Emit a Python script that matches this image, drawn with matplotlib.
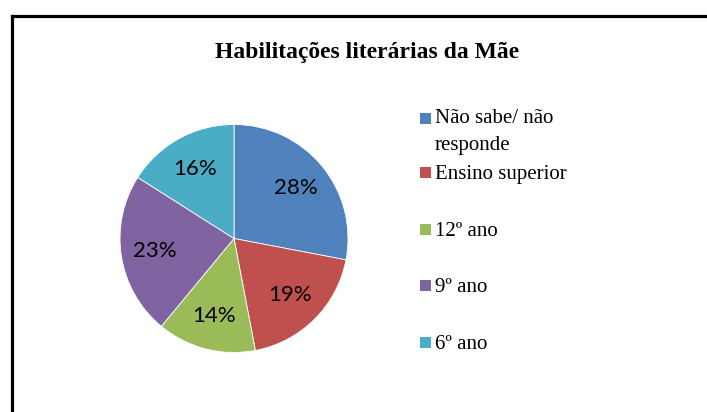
import matplotlib
matplotlib.use("Agg")
import matplotlib.pyplot as plt
from matplotlib.patches import Rectangle
from matplotlib.lines import Line2D

# dados do gráfico
categorias = ["Não sabe/ não\nresponde", "Ensino superior", "12º ano", "9º ano", "6º ano"]
valores = [28, 19, 14, 23, 16]
cores = ["#4F81BD", "#C0504D", "#9BBB59", "#8064A2", "#4BACC6"]
titulo = "Habilitações literárias da Mãe"

W, H = 707, 412
fig = plt.figure(figsize=(W / 100, H / 100), dpi=100, facecolor="white")

# moldura (só topo e esquerda visíveis)
fig.add_artist(Line2D([11.5 / W, 1.0], [1 - 15.5 / H, 1 - 15.5 / H],
                      transform=fig.transFigure, color="black", lw=2.3))
fig.add_artist(Line2D([11.5 / W, 11.5 / W], [0.0, 1 - 15.5 / H],
                      transform=fig.transFigure, color="black", lw=2.3))

fig.text(367 / W, 1 - 58 / H, titulo, ha="center", va="baseline",
         family="Liberation Serif", fontweight="bold", fontsize=17)

# pizza
cx, cy, r = 234, 238.5, 114
ax = fig.add_axes([(cx - r) / W, (H - cy - r) / H, 2 * r / W, 2 * r / H])
wedges, _, autotexts = ax.pie(valores, colors=cores, startangle=90, counterclock=False,
                              autopct="%1.0f%%", pctdistance=0.7,
                              wedgeprops=dict(edgecolor="white", linewidth=0.6),
                              textprops=dict(family="Lato", fontsize=16, color="black"))
ax.set_xlim(-1, 1)
ax.set_ylim(-1, 1)

# legenda manual (px: base do quadrado e linha de base da última linha do texto)
sq_base = [124, 178, 234.5, 291, 348]
txt_base = [150, 179, 235.5, 292, 349]
for cor, lab, ys, yt in zip(cores, categorias, sq_base, txt_base):
    fig.add_artist(Rectangle((420 / W, 1 - ys / H), 11 / W, 11 / H,
                             transform=fig.transFigure, facecolor=cor, edgecolor="none"))
    fig.text(435 / W, 1 - yt / H, lab, ha="left", va="baseline",
             family="Liberation Serif", fontsize=15, linespacing=1.55)

fig.savefig("out.png", dpi=100, facecolor="white")
